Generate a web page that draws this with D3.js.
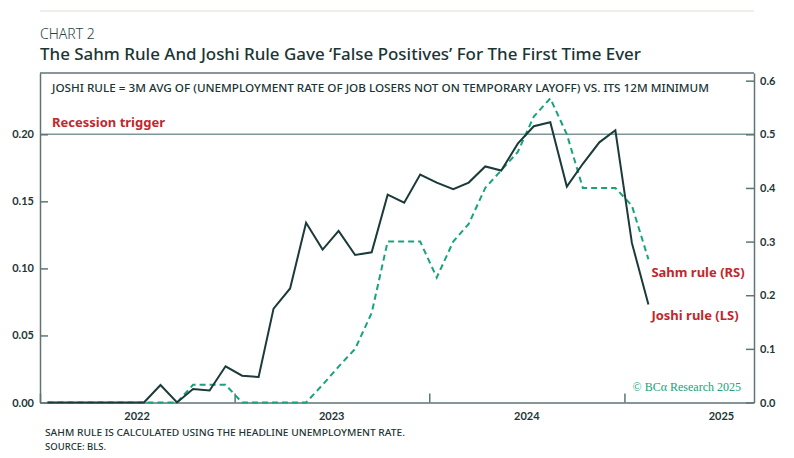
<!DOCTYPE html>
<html>
<head>
<meta charset="utf-8">
<script src="https://cdn.jsdelivr.net/npm/d3@7"></script>
<style>
  body { margin: 0; background: #fff; }
  svg { display: block; font-family: "Noto Sans", sans-serif; }
  .axis text { font-family: Lato, sans-serif; font-weight: 700; font-size: 11px; fill: #1d3636; }
  .axis path, .axis line { stroke: #5f7575; stroke-width: 1.5; }
</style>
</head>
<body>
<div id="chart"></div>
<script>
// monthly observations, Jan 2022 .. Feb 2025
var months = ['2022-01','2022-02','2022-03','2022-04','2022-05','2022-06','2022-07','2022-08','2022-09','2022-10','2022-11','2022-12',
              '2023-01','2023-02','2023-03','2023-04','2023-05','2023-06','2023-07','2023-08','2023-09','2023-10','2023-11','2023-12',
              '2024-01','2024-02','2024-03','2024-04','2024-05','2024-06','2024-07','2024-08','2024-09','2024-10','2024-11','2024-12',
              '2025-01','2025-02'];

// Joshi rule, left scale
var joshi = [0, 0, 0, 0, 0, 0, 0, 0.013, 0, 0.010, 0.009, 0.027,
             0.020, 0.019, 0.070, 0.085, 0.134, 0.114, 0.128, 0.110, 0.112, 0.155, 0.149, 0.170,
             0.164, 0.159, 0.164, 0.176, 0.173, 0.193, 0.206, 0.209, 0.161, 0.178, 0.194, 0.203,
             0.119, 0.073];

// Sahm rule, right scale
var sahm = [0, 0, 0, 0, 0, 0, 0, 0, 0, 0.033, 0.033, 0.033,
            0, 0, 0, 0, 0, 0.033, 0.067, 0.100, 0.167, 0.300, 0.300, 0.300,
            0.233, 0.300, 0.333, 0.400, 0.433, 0.467, 0.533, 0.567, 0.500, 0.400, 0.400, 0.400,
            0.367, 0.267];

var leftTicks = [0, 0.05, 0.10, 0.15, 0.20];
var rightTicks = [0, 0.1, 0.2, 0.3, 0.4, 0.5, 0.6];
var yearTicks = ['2022', '2023', '2024', '2025'];
var trigger = 0.20;   // left scale; 0.5 on the right

var W = 794, H = 458;
var margin = {top: 73, right: 40, bottom: 55.5, left: 40},
    width = W - margin.left - margin.right,
    height = H - margin.top - margin.bottom;

var parse = d3.timeParse('%Y-%m-%d');
var data = months.map((m, i) => ({ date: parse(m + '-15'), joshi: joshi[i], sahm: sahm[i] }));

var x = d3.scaleTime()
    .domain([parse('2022-01-01'), parse('2025-09-01')])
    .range([0, width]);
var yL = d3.scaleLinear().domain([0, 0.2457]).range([height, 0]);
var yR = d3.scaleLinear().domain([0, 0.6143]).range([height, 0]);

var svg = d3.select('#chart').append('svg')
    .attr('width', W)
    .attr('height', H);

// header
svg.append('line')
    .attr('x1', 40).attr('x2', 754).attr('y1', 11).attr('y2', 11)
    .attr('stroke', '#deded6').attr('stroke-width', 1.2);

svg.append('text')
    .attr('x', 40).attr('y', 38.5)
    .attr('font-size', 14).attr('font-weight', 300)
    .attr('fill', '#2a4242')
    .text('CHART 2');

svg.append('text')
    .attr('x', 40).attr('y', 60)
    .attr('font-size', 17).attr('font-weight', 500)
    .attr('fill', '#1b3535')
    .attr('textLength', 601).attr('lengthAdjust', 'spacingAndGlyphs')
    .text('The Sahm Rule And Joshi Rule Gave \u2018False Positives\u2019 For The First Time Ever');

var chart = svg.append('g')
    .attr('transform', 'translate(' + margin.left + ',' + margin.top + ')');

// frame top
chart.append('line')
    .attr('x1', 0).attr('x2', width).attr('y1', 0).attr('y2', 0)
    .attr('stroke', '#5f7575').attr('stroke-width', 1.5);

chart.append('text')
    .attr('x', 12).attr('y', 19)
    .attr('font-size', 11.5).attr('font-weight', 500)
    .attr('fill', '#1b3535')
    .attr('textLength', 657).attr('lengthAdjust', 'spacingAndGlyphs')
    .text('JOSHI RULE = 3M AVG OF (UNEMPLOYMENT RATE OF JOB LOSERS NOT ON TEMPORARY LAYOFF) VS. ITS 12M MINIMUM');

// recession trigger
chart.append('line')
    .attr('x1', 0).attr('x2', width)
    .attr('y1', yL(trigger)).attr('y2', yL(trigger))
    .attr('stroke', '#7f9696').attr('stroke-width', 1.5);

chart.append('text')
    .attr('x', 12).attr('y', yL(trigger) - 7)
    .attr('font-size', 13).attr('font-weight', 700)
    .attr('fill', '#c1272d')
    .text('Recession trigger');

// axes
chart.append('g')
    .attr('class', 'axis')
    .call(d3.axisLeft(yL).tickValues(leftTicks).tickFormat(d3.format('.2f'))
          .tickSizeInner(-8).tickSizeOuter(0).tickPadding(6));

chart.append('g')
    .attr('class', 'axis')
    .attr('transform', 'translate(' + width + ',0)')
    .call(d3.axisRight(yR).tickValues(rightTicks).tickFormat(d3.format('.1f'))
          .tickSizeInner(-8).tickSizeOuter(0).tickPadding(6));

chart.append('g')
    .attr('class', 'axis')
    .attr('transform', 'translate(0,' + height + ')')
    .call(d3.axisBottom(x).tickValues(yearTicks.map((y) => parse(y + '-01-01')))
          .tickFormat('').tickSizeInner(-9).tickSizeOuter(0));

var yearLabels = chart.append('g')
    .attr('class', 'axis')
    .attr('transform', 'translate(0,' + height + ')')
    .call(d3.axisBottom(x).tickValues(yearTicks.map((y) => parse(y + '-07-01')))
          .tickFormat(d3.timeFormat('%Y')).tickSize(0).tickPadding(9.5));
yearLabels.select('.domain').remove();
yearLabels.selectAll('text').attr('font-size', 11.5);

// series
var sahmLine = d3.line()
    .x((d) => x(d.date))
    .y((d) => yR(d.sahm));
var joshiLine = d3.line()
    .x((d) => x(d.date))
    .y((d) => yL(d.joshi));

chart.append('path')
    .datum(data)
    .attr('fill', 'none')
    .attr('stroke', '#17a37b')
    .attr('stroke-width', 2)
    .attr('stroke-dasharray', '6,4')
    .attr('d', sahmLine);

chart.append('path')
    .datum(data)
    .attr('fill', 'none')
    .attr('stroke', '#1b3a39')
    .attr('stroke-width', 2)
    .attr('stroke-linejoin', 'miter')
    .attr('d', joshiLine);

// series labels
var last = data[data.length - 1];
chart.append('text')
    .attr('x', x(last.date) + 3).attr('y', 204)
    .attr('font-size', 13).attr('font-weight', 700)
    .attr('fill', '#c1272d')
    .text('Sahm rule (RS)');
chart.append('text')
    .attr('x', x(last.date) + 3).attr('y', 247)
    .attr('font-size', 13).attr('font-weight', 700)
    .attr('fill', '#c1272d')
    .text('Joshi rule (LS)');

chart.append('text')
    .attr('x', width - 13).attr('y', height - 12)
    .attr('text-anchor', 'end')
    .attr('font-family', '"Liberation Serif", serif')
    .attr('font-size', 12)
    .attr('fill', '#17a37b')
    .text('\u00a9 BC\u03b1 Research 2025');

// footnotes
svg.append('text')
    .attr('x', 45).attr('y', 436)
    .attr('font-size', 9.5).attr('font-weight', 500)
    .attr('fill', '#1b3535')
    .attr('textLength', 360).attr('lengthAdjust', 'spacingAndGlyphs')
    .text('SAHM RULE IS CALCULATED USING THE HEADLINE UNEMPLOYMENT RATE.');
svg.append('text')
    .attr('x', 45).attr('y', 449.5)
    .attr('font-size', 9.5).attr('font-weight', 500)
    .attr('fill', '#1b3535')
    .text('SOURCE: BLS.');
</script>
</body>
</html>
